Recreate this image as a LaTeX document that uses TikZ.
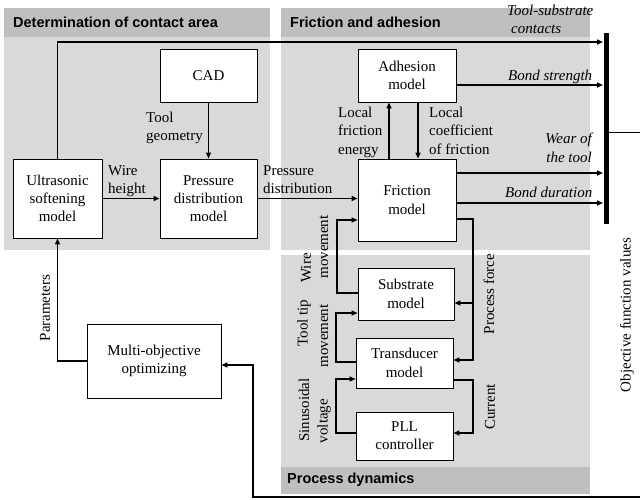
\documentclass[tikz,border=0pt]{standalone}
\usepackage{fontspec}
\setmainfont{Liberation Serif}
\newfontfamily\bxfont{Liberation Serif}
\newfontfamily\hdfont{Liberation Sans}
\usetikzlibrary{arrows.meta}
\definecolor{hdgray}{RGB}{191,191,191}
\definecolor{bdgray}{RGB}{217,217,217}
\tikzset{
 box/.style={draw=black, line width=0.9pt, fill=white, align=center, inner sep=0pt, font=\bxfont\fontsize{15}{18.3}\selectfont},
 conn/.style={line width=1.6pt, -{Triangle[length=6pt,width=5pt]}},
 lbl/.style={inner sep=0pt, font=\bxfont\fontsize{15}{18.3}\selectfont},
 ilbl/.style={inner sep=0pt, font=\bxfont\fontsize{15}{18.3}\selectfont\itshape},
 hdr/.style={inner sep=0pt, anchor=west, font=\hdfont\bfseries\fontsize{14.5}{16}\selectfont},
 rlbl/.style={lbl, rotate=90},
}
\begin{document}
\begin{tikzpicture}[x=1pt,y=-1pt]
\useasboundingbox (0,0) rectangle (640,499);
% panels
\fill[bdgray] (4,37) rectangle (270,250);
\fill[hdgray] (4,8) rectangle (270,37);
\fill[bdgray] (281,37) rectangle (590,250);
\fill[hdgray] (281,8) rectangle (590,37);
\fill[bdgray] (281,255) rectangle (590,467);
\fill[hdgray] (281,467) rectangle (590,494);
\node[hdr] (h1) at (13,22) {Determination of contact area};
\node[hdr] (h2) at (290,22) {Friction and adhesion};
\node[hdr] (h3) at (287,480) {Process dynamics};
% boxes
\node[box, minimum width=97pt, minimum height=53pt] (cad) at (208.5,75.5) {CAD};
\node[box, minimum width=89pt, minimum height=79pt] (us) at (57.5,198.5) {Ultrasonic\\softening\\model};
\node[box, minimum width=97pt, minimum height=79pt] (pd) at (208.5,198.5) {Pressure\\distribution\\model};
\node[box, minimum width=98pt, minimum height=53pt] (adh) at (407,75.5) {Adhesion\\model};
\node[box, minimum width=98pt, minimum height=82pt] (fr) at (407,200) {Friction\\model};
\node[box, minimum width=96pt, minimum height=52pt] (sub) at (406,294) {Substrate\\model};
\node[box, minimum width=97pt, minimum height=50pt] (tr) at (404.5,363) {Transducer\\model};
\node[box, minimum width=97pt, minimum height=48pt] (pll) at (404.5,436) {PLL\\controller};
\node[box, minimum width=134pt, minimum height=74pt] (mo) at (154,361) {Multi-objective\\optimizing};
% objective bar
\coordinate (bartop) at (606,33);
\coordinate (barbot) at (606,224);
\draw[line width=5pt] (bartop) -- (barbot);
\coordinate (obj) at (640,132);
\draw[line width=1pt] (obj -| bartop) -- (obj);
\coordinate (t1) at (603,42);
\coordinate (t2) at (603,85);
\coordinate (t3) at (603,173);
\coordinate (t4) at (603,203);
% connectors
\draw[conn] (us.north) |- (t1);
\draw[conn] (us) -- (pd);
\draw[conn] (cad) -- (pd);
\draw[conn] (pd.east) -- (pd.east -| fr.west);
\coordinate (ua) at (389,0);
\coordinate (da) at (418,0);
\draw[conn] (fr.north -| ua) -- (adh.south -| ua);
\draw[conn] (adh.south -| da) -- (fr.north -| da);
\draw[conn] (adh.east |- t2) -- (t2);
\draw[conn] (fr.east |- t3) -- (t3);
\draw[conn] (fr.east |- t4) -- (t4);
% process force
\coordinate (pf) at (473,219);
\coordinate (j1) at (473,303);
\coordinate (j2) at (473,360);
\draw[conn] (fr.east |- pf) -- (pf) -- (j2) -- (j2 -| tr.east);
\draw[conn] (j1) -- (j1 -| sub.east);
% wire movement
\coordinate (wm1) at (337,293);
\coordinate (wm2) at (337,220);
\draw[conn] (wm1 -| sub.west) -- (wm1) -- (wm2) -- (wm2 -| fr.west);
% tool tip movement
\coordinate (tt1) at (336,362);
\coordinate (tt2) at (336,313);
\draw[conn] (tt1 -| tr.west) -- (tt1) -- (tt2) -- (tt2 -| sub.west);
% sinusoidal voltage
\coordinate (sv1) at (336,433);
\coordinate (sv2) at (336,379);
\draw[conn] (sv1 -| pll.west) -- (sv1) -- (sv2) -- (sv2 -| tr.west);
% current
\coordinate (cu1) at (473,380);
\coordinate (cu2) at (473,433);
\draw[conn] (cu1 -| tr.east) -- (cu1) -- (cu2) -- (cu2 -| pll.east);
% parameters
\draw[conn] (mo.west) -| (us.south);
% feedback
\coordinate (fb1) at (640,497);
\coordinate (fb2) at (253,365);
\draw[conn] (fb1) -| (fb2) -- (fb2 -| mo.east);
% labels
\node[lbl, anchor=north west, align=left] (lwh) at (108,165) {Wire\\height};
\node[lbl, anchor=north west, align=left] (ltg) at (146,112) {Tool\\geometry};
\node[lbl, anchor=north west, align=left] (lpd) at (263,165) {Pressure\\distribution};
\node[lbl, anchor=north west, align=left] (llfe) at (338,107) {Local\\friction\\energy};
\node[lbl, anchor=north west, align=left] (llcf) at (429,107) {Local\\coefficient\\of friction};
\node[ilbl, anchor=north west, align=left] (ltsc) at (507,5) {Tool-substrate\\\hspace*{4pt}contacts};
\node[ilbl, anchor=north west] (lbs) at (508,70) {Bond strength};
\node[ilbl, anchor=north east, align=right] (lwt) at (592,133) {Wear of\\the tool};
\node[ilbl, anchor=north west] (lbd) at (505,187) {Bond duration};
\node[rlbl] (lobj) at (627,315) {Objective function values};
\node[rlbl] (lpar) at (45,308) {Parameters};
\node[rlbl] (lw1) at (306,268) {Wire};
\node[rlbl] (lw2) at (324,247) {movement};
\node[rlbl] (ltt1) at (304,323) {Tool tip};
\node[rlbl] (ltt2) at (324,336) {movement};
\node[rlbl] (lsv1) at (304,410) {Sinusoidal};
\node[rlbl] (lsv2) at (324,421) {voltage};
\node[rlbl] (lpf) at (489,294) {Process force};
\node[rlbl] (lcu) at (490,407) {Current};
\end{tikzpicture}
\end{document}
